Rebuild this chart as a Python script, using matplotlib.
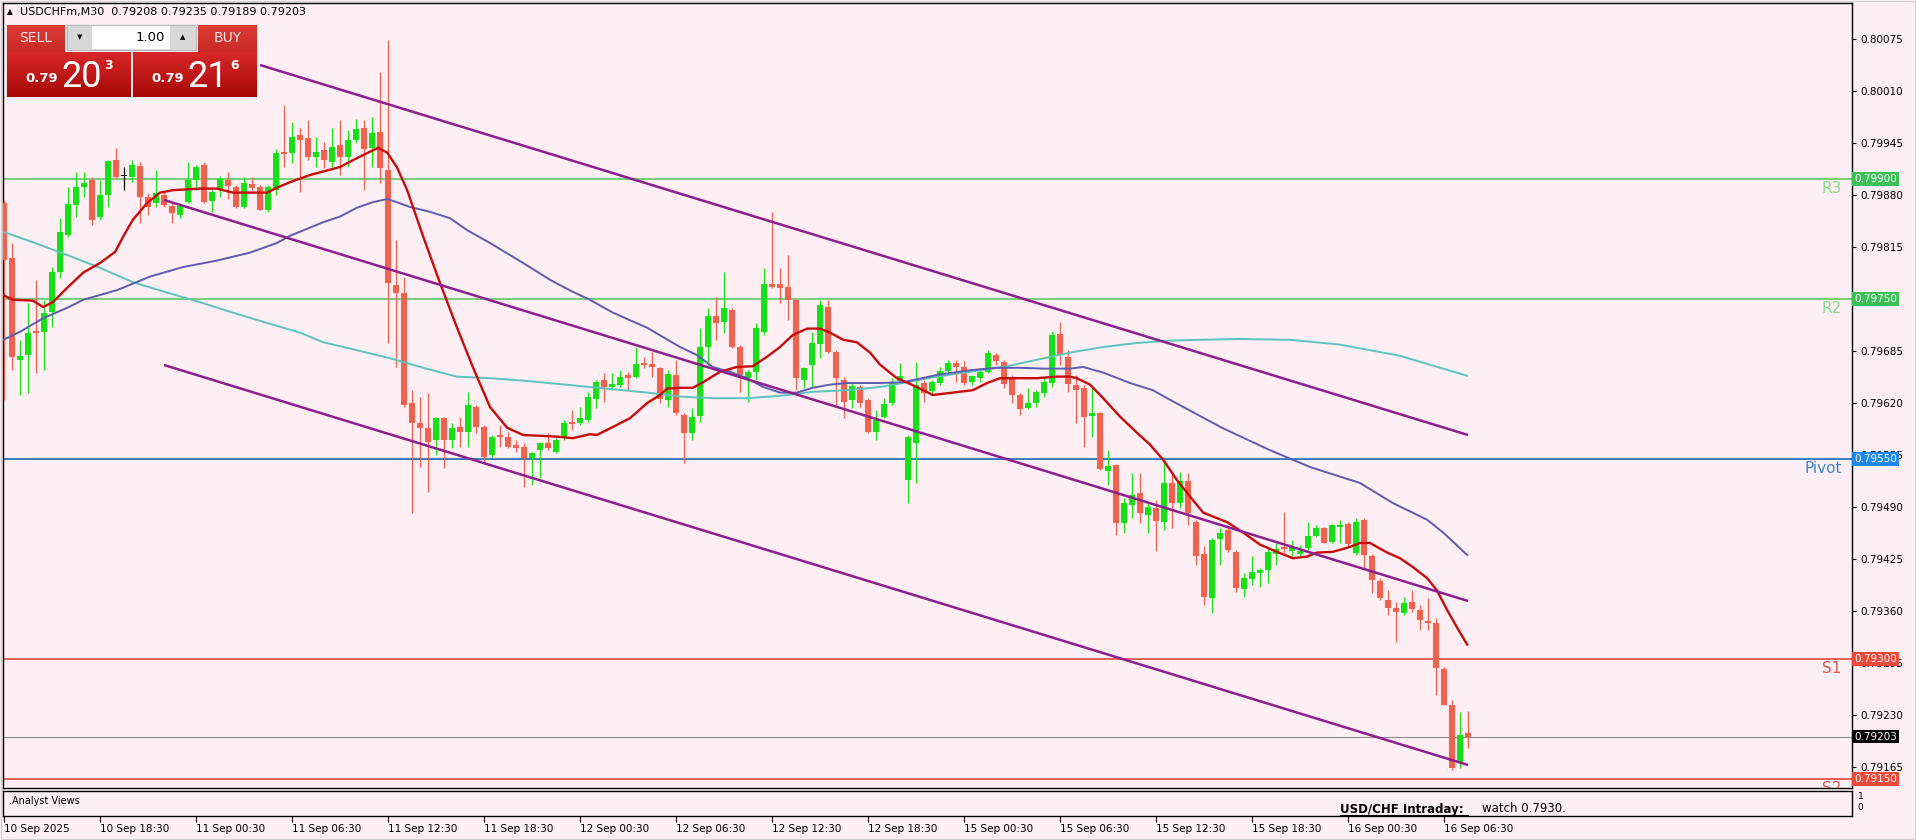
import matplotlib
matplotlib.use("Agg")
import matplotlib.pyplot as plt
from matplotlib.patches import Rectangle
import numpy as np

# ---------------- data ----------------
tick_labels = ["10 Sep 2025", "10 Sep 18:30", "11 Sep 00:30", "11 Sep 06:30", "11 Sep 12:30",
               "11 Sep 18:30", "12 Sep 00:30", "12 Sep 06:30", "12 Sep 12:30", "12 Sep 18:30",
               "15 Sep 00:30", "15 Sep 06:30", "15 Sep 12:30", "15 Sep 18:30", "16 Sep 00:30",
               "16 Sep 06:30"]
tick_pos = [0, 12, 24, 36, 48, 60, 72, 84, 96, 108, 120, 132, 144, 156, 168, 180]

opens = [0.79870, 0.79801, 0.79674, 0.79680, 0.79710, 0.79709, 0.79734, 0.79784, 0.79830, 0.79868,
         0.79890, 0.79899, 0.79853, 0.79880, 0.79924, 0.79904, 0.79903, 0.79916, 0.79878, 0.79870,
         0.79880, 0.79866, 0.79855, 0.79871, 0.79899, 0.79918, 0.79873, 0.79888, 0.79899, 0.79890,
         0.79865, 0.79894, 0.79890, 0.79861, 0.79886, 0.79934, 0.79933, 0.79955, 0.79951, 0.79928,
         0.79936, 0.79921, 0.79943, 0.79928, 0.79949, 0.79964, 0.79939, 0.79959, 0.79911, 0.79768,
         0.79758, 0.79620, 0.79595, 0.79589, 0.79574, 0.79601, 0.79574, 0.79590, 0.79584, 0.79615,
         0.79590, 0.79555, 0.79580, 0.79578, 0.79568, 0.79565, 0.79551, 0.79561, 0.79570, 0.79559,
         0.79576, 0.79596, 0.79595, 0.79599, 0.79625, 0.79649, 0.79640, 0.79643, 0.79655, 0.79653,
         0.79670, 0.79669, 0.79664, 0.79624, 0.79655, 0.79605, 0.79583, 0.79604, 0.79690, 0.79729,
         0.79721, 0.79736, 0.79690, 0.79651, 0.79659, 0.79709, 0.79769, 0.79769, 0.79765, 0.79749,
         0.79649, 0.79668, 0.79694, 0.79740, 0.79684, 0.79649, 0.79624, 0.79640, 0.79624, 0.79584,
         0.79603, 0.79620, 0.79648, 0.79524, 0.79570, 0.79645, 0.79635, 0.79645, 0.79660, 0.79670,
         0.79665, 0.79646, 0.79651, 0.79659, 0.79680, 0.79671, 0.79651, 0.79630, 0.79614, 0.79620,
         0.79633, 0.79645, 0.79706, 0.79678, 0.79643, 0.79639, 0.79604, 0.79608, 0.79535, 0.79543,
         0.79470, 0.79493, 0.79508, 0.79480, 0.79489, 0.79471, 0.79520, 0.79495, 0.79523, 0.79471,
         0.79431, 0.79376, 0.79450, 0.79461, 0.79434, 0.79388, 0.79400, 0.79408, 0.79411, 0.79431,
         0.79440, 0.79435, 0.79431, 0.79439, 0.79454, 0.79464, 0.79446, 0.79465, 0.79469, 0.79433,
         0.79474, 0.79429, 0.79398, 0.79374, 0.79364, 0.79358, 0.79371, 0.79361, 0.79348, 0.79345,
         0.79288, 0.79243, 0.79170, 0.79208]
highs = [0.79874, 0.79820, 0.79699, 0.79745, 0.79774, 0.79749, 0.79790, 0.79851, 0.79890, 0.79909,
         0.79909, 0.79903, 0.79899, 0.79924, 0.79939, 0.79915, 0.79924, 0.79921, 0.79883, 0.79911,
         0.79884, 0.79870, 0.79870, 0.79921, 0.79918, 0.79921, 0.79886, 0.79904, 0.79909, 0.79893,
         0.79903, 0.79903, 0.79893, 0.79893, 0.79938, 0.79993, 0.79971, 0.79964, 0.79974, 0.79953,
         0.79946, 0.79964, 0.79974, 0.79961, 0.79975, 0.79974, 0.79978, 0.80034, 0.80074, 0.79824,
         0.79778, 0.79636, 0.79628, 0.79633, 0.79603, 0.79603, 0.79595, 0.79603, 0.79634, 0.79618,
         0.79593, 0.79580, 0.79593, 0.79584, 0.79574, 0.79570, 0.79559, 0.79571, 0.79583, 0.79576,
         0.79599, 0.79611, 0.79615, 0.79634, 0.79649, 0.79658, 0.79658, 0.79661, 0.79659, 0.79690,
         0.79678, 0.79684, 0.79665, 0.79661, 0.79674, 0.79608, 0.79614, 0.79714, 0.79739, 0.79753,
         0.79784, 0.79739, 0.79693, 0.79661, 0.79720, 0.79789, 0.79859, 0.79789, 0.79805, 0.79750,
         0.79665, 0.79709, 0.79749, 0.79749, 0.79686, 0.79653, 0.79645, 0.79643, 0.79626, 0.79611,
         0.79626, 0.79651, 0.79670, 0.79580, 0.79671, 0.79649, 0.79649, 0.79665, 0.79674, 0.79674,
         0.79673, 0.79655, 0.79664, 0.79686, 0.79683, 0.79674, 0.79655, 0.79633, 0.79639, 0.79636,
         0.79653, 0.79710, 0.79721, 0.79686, 0.79655, 0.79643, 0.79640, 0.79609, 0.79561, 0.79544,
         0.79501, 0.79533, 0.79533, 0.79495, 0.79499, 0.79546, 0.79534, 0.79534, 0.79533, 0.79474,
         0.79441, 0.79451, 0.79464, 0.79464, 0.79436, 0.79408, 0.79429, 0.79414, 0.79439, 0.79445,
         0.79484, 0.79449, 0.79443, 0.79471, 0.79468, 0.79465, 0.79469, 0.79474, 0.79471, 0.79476,
         0.79476, 0.79431, 0.79401, 0.79386, 0.79371, 0.79378, 0.79386, 0.79368, 0.79376, 0.79351,
         0.79290, 0.79249, 0.79234, 0.79235]
lows = [0.79624, 0.79661, 0.79630, 0.79633, 0.79658, 0.79661, 0.79715, 0.79776, 0.79828, 0.79853,
        0.79878, 0.79843, 0.79849, 0.79865, 0.79901, 0.79886, 0.79896, 0.79845, 0.79855, 0.79865,
        0.79865, 0.79845, 0.79851, 0.79870, 0.79886, 0.79870, 0.79859, 0.79878, 0.79875, 0.79864,
        0.79864, 0.79886, 0.79861, 0.79859, 0.79880, 0.79915, 0.79920, 0.79884, 0.79924, 0.79915,
        0.79914, 0.79915, 0.79905, 0.79915, 0.79945, 0.79886, 0.79915, 0.79895, 0.79695, 0.79665,
        0.79615, 0.79483, 0.79540, 0.79509, 0.79555, 0.79539, 0.79564, 0.79565, 0.79565, 0.79583,
        0.79545, 0.79553, 0.79565, 0.79564, 0.79559, 0.79515, 0.79518, 0.79526, 0.79561, 0.79558,
        0.79574, 0.79586, 0.79593, 0.79596, 0.79614, 0.79621, 0.79636, 0.79640, 0.79636, 0.79651,
        0.79664, 0.79653, 0.79620, 0.79615, 0.79605, 0.79545, 0.79574, 0.79596, 0.79665, 0.79699,
        0.79708, 0.79689, 0.79634, 0.79621, 0.79649, 0.79705, 0.79764, 0.79745, 0.79724, 0.79636,
        0.79639, 0.79640, 0.79676, 0.79683, 0.79618, 0.79601, 0.79614, 0.79615, 0.79583, 0.79574,
        0.79601, 0.79618, 0.79645, 0.79495, 0.79520, 0.79621, 0.79633, 0.79643, 0.79658, 0.79646,
        0.79643, 0.79643, 0.79646, 0.79658, 0.79668, 0.79639, 0.79620, 0.79605, 0.79613, 0.79615,
        0.79628, 0.79640, 0.79668, 0.79634, 0.79595, 0.79565, 0.79578, 0.79536, 0.79518, 0.79455,
        0.79458, 0.79476, 0.79470, 0.79458, 0.79435, 0.79461, 0.79464, 0.79489, 0.79468, 0.79418,
        0.79368, 0.79358, 0.79418, 0.79434, 0.79384, 0.79378, 0.79393, 0.79390, 0.79395, 0.79418,
        0.79433, 0.79428, 0.79426, 0.79436, 0.79453, 0.79445, 0.79445, 0.79445, 0.79441, 0.79430,
        0.79414, 0.79383, 0.79374, 0.79355, 0.79321, 0.79355, 0.79359, 0.79336, 0.79336, 0.79255,
        0.79243, 0.79161, 0.79164, 0.79189]
closes = [0.79799, 0.79678, 0.79679, 0.79708, 0.79708, 0.79733, 0.79784, 0.79834, 0.79869, 0.79890,
          0.79895, 0.79849, 0.79880, 0.79923, 0.79903, 0.79904, 0.79918, 0.79878, 0.79865, 0.79883,
          0.79868, 0.79858, 0.79866, 0.79899, 0.79915, 0.79871, 0.79884, 0.79900, 0.79891, 0.79865,
          0.79895, 0.79889, 0.79861, 0.79890, 0.79933, 0.79931, 0.79953, 0.79949, 0.79928, 0.79934,
          0.79924, 0.79940, 0.79928, 0.79949, 0.79963, 0.79938, 0.79958, 0.79914, 0.79770, 0.79758,
          0.79618, 0.79595, 0.79589, 0.79571, 0.79601, 0.79574, 0.79589, 0.79584, 0.79618, 0.79590,
          0.79553, 0.79578, 0.79578, 0.79565, 0.79564, 0.79551, 0.79558, 0.79570, 0.79564, 0.79574,
          0.79595, 0.79594, 0.79601, 0.79628, 0.79646, 0.79640, 0.79644, 0.79653, 0.79651, 0.79669,
          0.79668, 0.79665, 0.79625, 0.79656, 0.79608, 0.79583, 0.79603, 0.79690, 0.79729, 0.79720,
          0.79739, 0.79690, 0.79655, 0.79659, 0.79714, 0.79769, 0.79765, 0.79764, 0.79749, 0.79651,
          0.79664, 0.79695, 0.79743, 0.79684, 0.79651, 0.79621, 0.79641, 0.79620, 0.79584, 0.79599,
          0.79619, 0.79645, 0.79654, 0.79578, 0.79643, 0.79633, 0.79646, 0.79660, 0.79670, 0.79665,
          0.79645, 0.79654, 0.79659, 0.79683, 0.79673, 0.79644, 0.79630, 0.79613, 0.79620, 0.79634,
          0.79646, 0.79705, 0.79680, 0.79644, 0.79636, 0.79603, 0.79608, 0.79538, 0.79541, 0.79470,
          0.79495, 0.79505, 0.79483, 0.79490, 0.79473, 0.79520, 0.79495, 0.79523, 0.79483, 0.79429,
          0.79378, 0.79449, 0.79458, 0.79436, 0.79389, 0.79401, 0.79409, 0.79411, 0.79434, 0.79438,
          0.79438, 0.79440, 0.79435, 0.79454, 0.79464, 0.79445, 0.79468, 0.79468, 0.79444, 0.79471,
          0.79430, 0.79399, 0.79376, 0.79364, 0.79359, 0.79370, 0.79363, 0.79349, 0.79345, 0.79289,
          0.79243, 0.79164, 0.79205, 0.79203]

# moving averages (bar index, price)
ma_fast_x = [-0.1, 1.1, 3.6, 4.9, 6.1, 7.9, 9.9, 12, 13.9, 14.9, 16.1, 17.9, 19.5, 21.1, 24.5, 26.6, 28.6,
             32.9, 34.1, 35.75, 38.25, 42, 44.1, 46.75, 47.9, 49.1, 50.4, 52.4, 54.5, 56.6, 58.6, 60.75,
             62.9, 64.9, 69.1, 71.1, 73.25, 74.1, 76.1, 78.25, 80.4, 82, 82.9, 84.5, 86.1, 87.4, 89.5,
             91.6, 93.6, 95.4, 97, 98.6, 100.4, 102, 103.25, 104.9, 106.6, 108.25, 109.5, 111.6, 113.25,
             114.9, 116.1, 118.6, 121.1, 122.9, 124.5, 127, 129.1, 131.6, 133.25, 134.1, 135.75, 137.4,
             139.5, 141.6, 143.25, 144.9, 146.6, 148.25, 149.9, 152.9, 154.9, 157, 159.1, 161.1, 162.9,
             164.1, 166.1, 167.9, 169.5, 170.75, 172.9, 174.5, 176.1, 177.9, 179.1, 180.4, 181.6, 182.9]
ma_fast_y = [0.79755, 0.79749, 0.79748, 0.79740, 0.79746, 0.79764, 0.79783, 0.79795, 0.79809, 0.79828,
             0.79849, 0.79870, 0.79883, 0.79886, 0.79888, 0.79888, 0.79883, 0.79883, 0.79889, 0.79896,
             0.79905, 0.79915, 0.79926, 0.79939, 0.79933, 0.79915, 0.79886, 0.79828, 0.79770, 0.79715,
             0.79665, 0.79615, 0.79589, 0.79580, 0.79578, 0.79576, 0.79581, 0.79580, 0.79590, 0.79601,
             0.79620, 0.79630, 0.79638, 0.79639, 0.79639, 0.79646, 0.79659, 0.79665, 0.79666, 0.79678,
             0.79690, 0.79705, 0.79713, 0.79713, 0.79708, 0.79699, 0.79696, 0.79683, 0.79668, 0.79651,
             0.79644, 0.79636, 0.79630, 0.79633, 0.79636, 0.79645, 0.79651, 0.79651, 0.79651, 0.79653,
             0.79653, 0.79651, 0.79643, 0.79626, 0.79603, 0.79583, 0.79568, 0.79549, 0.79524, 0.79503,
             0.79483, 0.79471, 0.79458, 0.79443, 0.79434, 0.79426, 0.79428, 0.79433, 0.79434, 0.79439,
             0.79445, 0.79445, 0.79433, 0.79426, 0.79415, 0.79401, 0.79386, 0.79361, 0.79340, 0.79318]

ma_mid_x = [-0.1, 2, 4.9, 7.9, 9.9, 14.1, 18.25, 22.4, 26.6, 30.75, 34.1, 35.75, 39.9, 42, 44.1, 46.1,
            47.9, 49.1, 50.75, 53.25, 55.75, 57.9, 60.75, 64.9, 68.25, 71.1, 73.25, 76.1, 80.4, 84.5,
            86.6, 88.6, 90.75, 92.9, 94.9, 97, 99.1, 101.1, 103.25, 105.4, 109.5, 112.4, 116.6, 120.75,
            124.1, 127, 129.9, 133.25, 134.9, 137.4, 140.75, 143.6, 145.75, 152.25, 158.25, 163.25,
            169.5, 173.6, 177.9, 179.9, 182.9]
ma_mid_y = [0.79699, 0.79709, 0.79726, 0.79739, 0.79749, 0.79761, 0.79778, 0.79790, 0.79798, 0.79808,
            0.79820, 0.79829, 0.79846, 0.79853, 0.79864, 0.79871, 0.79875, 0.79871, 0.79865, 0.79859,
            0.79851, 0.79836, 0.79820, 0.79795, 0.79774, 0.79759, 0.79749, 0.79733, 0.79714, 0.79690,
            0.79680, 0.79665, 0.79659, 0.79651, 0.79640, 0.79633, 0.79633, 0.79639, 0.79643, 0.79645,
            0.79645, 0.79646, 0.79655, 0.79661, 0.79664, 0.79664, 0.79663, 0.79663, 0.79665, 0.79658,
            0.79645, 0.79636, 0.79624, 0.79589, 0.79561, 0.79540, 0.79520, 0.79495, 0.79474, 0.79458,
            0.79430]

ma_slow_x = [-0.1, 3.6, 7.9, 12, 16.1, 20.4, 24.5, 28.6, 32.9, 37, 39.9, 44.1, 48.25, 52.4, 56.6, 60.75,
             64.9, 69.1, 73.25, 80.4, 84.5, 88.6, 92.9, 97, 101.1, 105.4, 109.5, 112.4, 116.6, 120.75,
             124.9, 129.1, 133.25, 137.4, 141.6, 145.75, 149.5, 154.5, 160.75, 167, 174.5, 182.9]
ma_slow_y = [0.79834, 0.79821, 0.79805, 0.79789, 0.79771, 0.79758, 0.79746, 0.79733, 0.79720, 0.79708,
             0.79696, 0.79686, 0.79676, 0.79664, 0.79653, 0.79651, 0.79648, 0.79644, 0.79640, 0.79633,
             0.79628, 0.79626, 0.79626, 0.79629, 0.79634, 0.79636, 0.79640, 0.79645, 0.79653, 0.79659,
             0.79665, 0.79674, 0.79683, 0.79690, 0.79695, 0.79698, 0.79699, 0.79700, 0.79699, 0.79693,
             0.79679, 0.79654]

# trend channel lines: (start bar, end bar), (start price, end price)
chan_upper_x = [32, 183]
chan_upper_y = [0.800425, 0.79580]
chan_mid_x = [20, 183]
chan_mid_y = [0.798738, 0.793725]
chan_low_x = [20, 183]
chan_low_y = [0.796675, 0.791675]

levels = [0.79900, 0.79750, 0.79550, 0.79300, 0.79150]
level_names = ["R3", "R2", "Pivot", "S1", "S2"]
current_price = 0.79203
price_ticks = [0.80075, 0.80010, 0.79945, 0.79880, 0.79815, 0.79750, 0.79685, 0.79620,
               0.79555, 0.79490, 0.79425, 0.79360, 0.79295, 0.79230, 0.79165]

# ---------------- style ----------------
W, H = 1916, 840
BG = "#FDEFF3"
BULL = "#17E017"
BEAR = "#F0624D"
C_FAST = "#C80C0C"
C_MID = "#5C5CB0"
C_SLOW = "#5CC4BC"
C_CHAN = "#8E1F8E"
C_RES = "#6DCB72"
C_PIV = "#2B74B8"
C_SUP = "#E2544C"
level_colors = [C_RES, C_RES, C_PIV, C_SUP, C_SUP]
box_colors = ["#3DC05A", "#3DC05A", "#1E88F0", "#EE4A3C", "#EE4A3C"]
label_colors = ["#86D98A", "#86D98A", "#3C86C8", "#D9584F", "#D9584F"]

fig = plt.figure(figsize=(W / 100, H / 100), dpi=100)
fig.patch.set_facecolor(BG)


def fx(px):
    return px / W


def fy(py):
    return 1 - py / H


ax = fig.add_axes([fx(3), fy(788), fx(1852) - fx(3), fy(3) - fy(788)])
ax.set_facecolor(BG)
ax.set_xlim(-0.125, 231)
ax.set_ylim(0.7913875, 0.8012)
for s in ax.spines.values():
    s.set_color("black")
    s.set_linewidth(1)

idx = np.arange(len(opens))
o = np.array(opens); h = np.array(highs); l = np.array(lows); c = np.array(closes)
cols = [BULL if cc > oo else (BEAR if cc < oo else "black") for oo, cc in zip(o, c)]
ax.vlines(idx, l, h, colors=cols, linewidth=0.9, zorder=3)
bottoms = np.minimum(o, c)
heights = np.maximum(np.abs(c - o), 0.0000125)
ax.bar(idx, heights, bottom=bottoms, width=0.64, color=cols, linewidth=0, zorder=4)

# horizontal levels
for lv, col in zip(levels, level_colors):
    ax.axhline(lv, color=col, linewidth=1.3, zorder=2)
ax.axhline(current_price, color="#8A8A8A", linewidth=0.8, zorder=2)

# moving averages
ax.plot(ma_slow_x, ma_slow_y, color=C_SLOW, linewidth=1.4, zorder=5)
ax.plot(ma_mid_x, ma_mid_y, color=C_MID, linewidth=1.4, zorder=5)
ax.plot(ma_fast_x, ma_fast_y, color=C_FAST, linewidth=1.7, zorder=6)

# channel
for xs, ys in [(chan_upper_x, chan_upper_y), (chan_mid_x, chan_mid_y), (chan_low_x, chan_low_y)]:
    ax.plot(xs, ys, color=C_CHAN, linewidth=1.8, zorder=6, solid_capstyle="butt")

# level names
ytr = ax.get_yaxis_transform()
for lv, nm, col in zip(levels, level_names, label_colors):
    ax.text(0.9945, lv - 0.00003, nm, transform=ytr, ha="right", va="top", fontsize=11,
            color=col, zorder=7, clip_on=True)

# price axis (the 0.79750 label sits fully under the R2 box in the reference)
ax.yaxis.tick_right()
ax.set_yticks(price_ticks)
ax.set_yticklabels(["" if abs(p - 0.79750) < 1e-9 else f"{p:.5f}" for p in price_ticks])
ax.tick_params(axis="y", direction="out", length=3, width=0.8, labelsize=7.5, pad=3, colors="black")
ax.set_xticks([])

# price boxes on the axis
for lv, bc in zip(levels, box_colors):
    ax.text(1.0012, lv, f"{lv:.5f}", transform=ytr, ha="left", va="center", fontsize=7.5,
            color="white", zorder=10, clip_on=False,
            bbox=dict(boxstyle="square,pad=0.18", fc=bc, ec="none"))
ax.text(1.0012, current_price, f"{current_price:.5f}", transform=ytr, ha="left", va="center",
        fontsize=7.5, color="white", zorder=10, clip_on=False,
        bbox=dict(boxstyle="square,pad=0.18", fc="black", ec="none"))

# ---------------- sub window ----------------
ax2 = fig.add_axes([fx(3), fy(816), fx(1852) - fx(3), fy(791) - fy(816)])
ax2.set_facecolor(BG)
ax2.set_xlim(-0.125, 231)
ax2.set_ylim(0, 1)
for s in ax2.spines.values():
    s.set_color("black")
    s.set_linewidth(1)
ax2.set_yticks([])
ax2.set_xticks(tick_pos)
ax2.set_xticklabels(tick_labels)
ax2.tick_params(axis="x", direction="out", length=4, width=0.8, labelsize=7.5, pad=2)
for lbl in ax2.get_xticklabels():
    lbl.set_horizontalalignment("left")
ax2.text(0.003, 0.62, ".Analyst Views", transform=ax2.transAxes, fontsize=7, va="center", ha="left")
ax2.text(1.003, 0.78, "1", transform=ax2.transAxes, fontsize=6.5, va="center", ha="left")
ax2.text(1.003, 0.35, "0", transform=ax2.transAxes, fontsize=6.5, va="center", ha="left")

# ---------------- overlay (pixel coordinates) ----------------
ov = fig.add_axes([0, 0, 1, 1], zorder=20)
ov.set_xlim(0, W)
ov.set_ylim(H, 0)
ov.axis("off")
ov.patch.set_alpha(0)

ov.text(1340, 809, "USD/CHF Intraday:", fontsize=8.5, fontweight="bold", ha="left", va="center")
ov.plot([1340, 1468], [815, 815], color="black", linewidth=0.8)
ov.text(1482, 809, "watch 0.7930.", fontsize=8.5, ha="left", va="center")

ov.text(7, 12, "\u25B2", fontsize=5.5, ha="left", va="center")
ov.text(20, 12, "USDCHFm,M30  0.79208 0.79235 0.79189 0.79203", fontsize=8, ha="left", va="center")


def grad_rect(x0, y0, w, hgt, top, bot):
    cm = matplotlib.colors.LinearSegmentedColormap.from_list("g", [top, bot])
    ov.imshow(np.linspace(0, 1, 50).reshape(-1, 1), cmap=cm, aspect="auto",
              extent=(x0, x0 + w, y0 + hgt, y0), zorder=1, interpolation="bilinear")


ov.add_patch(Rectangle((6, 24), 252, 74, fc="#E8E8E8", ec="none", zorder=0.5))
grad_rect(7, 25, 58, 27, "#DE3C36", "#C82A25")
grad_rect(198, 25, 59, 27, "#DE3C36", "#C82A25")
ov.add_patch(Rectangle((67, 25), 129, 25, fc="#D8D8D8", ec="#B0B0B0", lw=0.6, zorder=2))
ov.add_patch(Rectangle((92, 26), 78, 23, fc="white", ec="none", zorder=3))
ov.text(80, 37.5, "\u25BC", fontsize=5, ha="center", va="center", zorder=4)
ov.text(183, 37.5, "\u25B2", fontsize=5, ha="center", va="center", zorder=4)
ov.text(165, 37.5, "1.00", fontsize=9.5, ha="right", va="center", zorder=4)
ov.text(36, 38, "SELL", fontsize=10, ha="center", va="center", color="#FFE8E8", zorder=4)
ov.text(228, 38, "BUY", fontsize=10, ha="center", va="center", color="#FFE8E8", zorder=4)
grad_rect(7, 52, 124, 45, "#D82828", "#A80808")
grad_rect(133, 52, 124, 45, "#D82828", "#A80808")
for x0, big, sup in [(7, "20", "3"), (133, "21", "6")]:
    ov.text(x0 + 18, 82, "0.79", fontsize=9.5, fontweight="bold", color="white", ha="left",
            va="baseline", zorder=4)
    ov.text(x0 + 54, 87, big, fontsize=26, family="Roboto", color="white", ha="left",
            va="baseline", zorder=4)
    ov.text(x0 + 97, 69, sup, fontsize=9, fontweight="bold", color="white", ha="left",
            va="baseline", zorder=4)

# outer frame
ov.add_patch(Rectangle((1, 1), W - 2, H - 2, fill=False, ec="#C0C0C0", lw=0.5))

fig.savefig("out.png", dpi=100, facecolor=BG)
